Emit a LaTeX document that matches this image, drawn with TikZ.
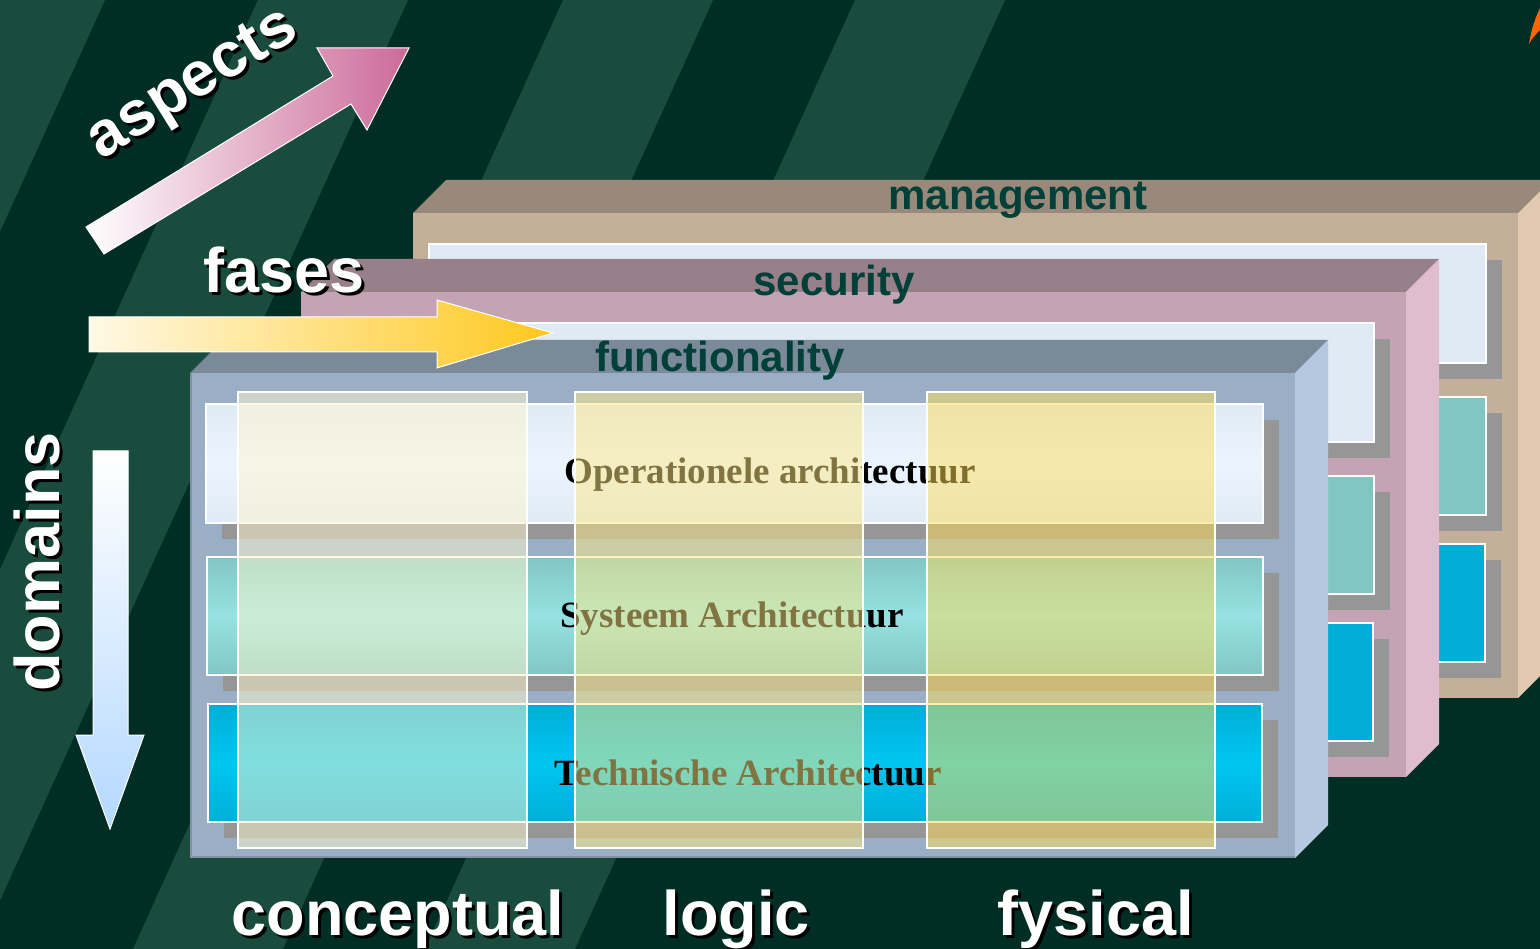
\documentclass[tikz,border=0pt]{standalone}
\usepackage{fontspec}
\setmainfont{Liberation Serif}
\newfontfamily\arialf{Liberation Sans}
\definecolor{bgdark}{RGB}{0,46,37}
\definecolor{bglight}{RGB}{26,76,62}
\definecolor{mgmtFront}{RGB}{196,175,155}
\definecolor{mgmtTop}{RGB}{152,137,122}
\definecolor{mgmtSide}{RGB}{226,202,176}
\definecolor{secFront}{RGB}{196,164,180}
\definecolor{secTop}{RGB}{151,128,137}
\definecolor{secSide}{RGB}{224,188,207}
\definecolor{funFront}{RGB}{154,175,197}
\definecolor{funTop}{RGB}{122,138,152}
\definecolor{funSide}{RGB}{180,201,224}
\definecolor{rowA}{RGB}{224,234,245}
\definecolor{rowAc}{RGB}{236,245,255}
\definecolor{rowB}{RGB}{130,198,196}
\definecolor{rowBc}{RGB}{150,226,226}
\definecolor{rowC}{RGB}{0,174,216}
\definecolor{rowCc}{RGB}{0,198,240}
\definecolor{shadowgray}{RGB}{150,150,150}
\definecolor{colA}{RGB}{255,247,205}
\definecolor{colB}{RGB}{255,233,135}
\definecolor{colC}{RGB}{255,221,90}
\definecolor{titletext}{RGB}{0,64,56}
\definecolor{aspPink}{RGB}{204,106,153}
\definecolor{fasGold}{RGB}{255,200,30}
\definecolor{fasCream}{RGB}{255,249,230}
\definecolor{domBlue}{RGB}{180,216,255}
\definecolor{orangemark}{RGB}{255,102,0}
\definecolor{edgeline}{RGB}{130,145,165}
\usetikzlibrary{calc}
\tikzset{
  lbl/.style={font=\arialf\bfseries\fontsize{63}{63}\selectfont, text=white, inner sep=0pt},
  lblsh/.style={lbl, text=black},
  facetitle/.style={font=\arialf\bfseries\fontsize{42}{42}\selectfont, text=titletext, inner sep=0pt, anchor=base},
  archtext/.style={font=\bfseries\fontsize{37}{37}\selectfont, text=black, inner sep=0pt, anchor=base},
  rowframe/.style={draw=white, line width=2pt},
  colbox/.style={draw=white, line width=1.5pt, fill opacity=0.5, draw opacity=1},
  arrowline/.style={draw=white, line width=1pt}
}
\begin{document}
\begin{tikzpicture}[x=1pt,y=-1pt]
\useasboundingbox (0,0) rectangle (1540,949);
\begin{scope}
\clip (0,0) rectangle (1540,949);
% background
\fill[bgdark] (0,0) rectangle (1540,949);
\foreach \s in {-45,258,563,855}
  \fill[bglight] (\s,0) -- ++(150,0) -- ++(-430,949) -- ++(-150,0) -- cycle;
% orange mark
\fill[orangemark] (1529,44) .. controls (1531,30) and (1535,18) .. (1542,4) -- (1542,28) .. controls (1537,33) and (1532,38) .. (1529,44) -- cycle;

% ---------- management layer ----------
\begin{scope}[shift={(223,-160)}]
  \fill[mgmtTop] (190,373) -- (223,340) -- (1328,340) -- (1295,373) -- cycle;
  \fill[mgmtSide] (1295,373) -- (1328,340) -- (1328,825) -- (1295,858) -- cycle;
  \fill[mgmtFront] (190,373) rectangle (1295,858);
  \fill[shadowgray] (222,420) rectangle (1279,539);
  \fill[shadowgray] (223,573) rectangle (1279,691);
  \fill[shadowgray] (224,720) rectangle (1278,838);
  \filldraw[rowframe, fill=rowA] (206,404) rectangle (1263,523);
  \filldraw[rowframe, fill=rowB] (207,557) rectangle (1263,675);
  \filldraw[rowframe, fill=rowC] (208,704) rectangle (1262,822);
\end{scope}
\node[facetitle] (management) at (1018,210) {management};

% ---------- security layer ----------
\begin{scope}[shift={(111,-81)}]
  \fill[secTop] (190,373) -- (223,340) -- (1328,340) -- (1295,373) -- cycle;
  \fill[secSide] (1295,373) -- (1328,340) -- (1328,825) -- (1295,858) -- cycle;
  \fill[secFront] (190,373) rectangle (1295,858);
  \fill[shadowgray] (222,420) rectangle (1279,539);
  \fill[shadowgray] (223,573) rectangle (1279,691);
  \fill[shadowgray] (224,720) rectangle (1278,838);
  \filldraw[rowframe, fill=rowA] (206,404) rectangle (1263,523);
  \filldraw[rowframe, fill=rowB] (207,557) rectangle (1263,675);
  \filldraw[rowframe, fill=rowC] (208,704) rectangle (1262,822);
\end{scope}
\node[facetitle] (security) at (834,296) {security};

% ---------- functionality layer ----------
\fill[funTop] (190,373) -- (223,340) -- (1328,340) -- (1295,373) -- cycle;
\fill[funSide] (1295,373) -- (1328,340) -- (1328,825) -- (1295,858) -- cycle;
\fill[funFront] (190,373) rectangle (1295,858);
\draw[edgeline, line width=1.5pt] (191,373) -- (191,857) -- (1295,857);
\fill[shadowgray] (222,420) rectangle (1279,539);
\fill[shadowgray] (223,573) rectangle (1279,691);
\fill[shadowgray] (224,720) rectangle (1278,838);
\shade[top color=rowA, bottom color=rowA, middle color=rowAc] (206,404) rectangle (1263,523);
\draw[rowframe] (206,404) rectangle (1263,523);
\shade[top color=rowB, bottom color=rowB, middle color=rowBc] (207,557) rectangle (1263,675);
\draw[rowframe] (207,557) rectangle (1263,675);
\shade[top color=rowC, bottom color=rowC, middle color=rowCc] (208,704) rectangle (1262,822);
\draw[rowframe] (208,704) rectangle (1262,822);
\node[facetitle] (functionality) at (720,372) {functionality};

\node[archtext] (oper) at (770,483) {Operationele architectuur};
\node[archtext] (syst) at (732,627) {Systeem Architectuur};
\node[archtext] (tech) at (748,785) {Technische Architectuur};

% columns
\filldraw[colbox, fill=colA] (238,392) rectangle (527,848);
\filldraw[colbox, fill=colB] (575,392) rectangle (863,848);
\filldraw[colbox, fill=colC] (927,392) rectangle (1215,848);

% ---------- arrows ----------
\shade[left color=white, right color=aspPink] (86,227) -- (333,76) -- (317,48) -- (409,48) -- (367,130) -- (351,104) -- (104,254) -- cycle;
\draw[arrowline] (86,227) -- (333,76) -- (317,48) -- (409,48) -- (367,130) -- (351,104) -- (104,254) -- cycle;
\shade[left color=fasCream, right color=fasGold] (89,317) -- (437,317) -- (437,300) -- (553,333) -- (437,368) -- (437,352) -- (89,352) -- cycle;
\draw[arrowline] (89,317) -- (437,317) -- (437,300) -- (553,333) -- (437,368) -- (437,352) -- (89,352) -- cycle;
\shade[top color=white, bottom color=domBlue] (93,451) -- (128,451) -- (128,735) -- (144,735) -- (110,829) -- (76,735) -- (93,735) -- cycle;
\draw[arrowline] (93,451) -- (128,451) -- (128,735) -- (144,735) -- (110,829) -- (76,735) -- (93,735) -- cycle;

% ---------- labels ----------
\node[lblsh, rotate=32] (aspects-sh) at (197,89) {aspects};
\node[lbl, rotate=32] (aspects) at (194,86) {aspects};
\node[lblsh, rotate=90] (domains-sh) at (40,565) {domains};
\node[lbl, rotate=90] (domains) at (37,562) {domains};
\node[lblsh, anchor=base] (fases-sh) at (287,296) {fases};
\node[lbl, anchor=base] (fases) at (284,293) {fases};
\node[lblsh, anchor=base] (conceptual-sh) at (401,938) {conceptual};
\node[lbl, anchor=base] (conceptual) at (398,935) {conceptual};
\node[lblsh, anchor=base] (logic-sh) at (739,938) {logic};
\node[lbl, anchor=base] (logic) at (736,935) {logic};
\node[lblsh, anchor=base] (fysical-sh) at (1099,938) {fysical};
\node[lbl, anchor=base] (fysical) at (1096,935) {fysical};
\end{scope}
\end{tikzpicture}
\end{document}
